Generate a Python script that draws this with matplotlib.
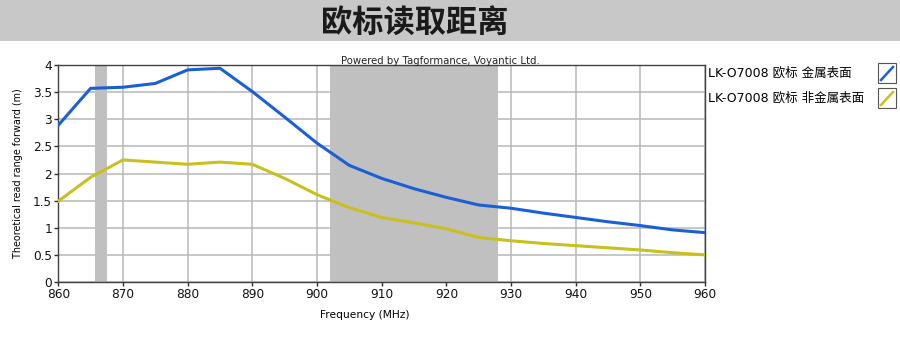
import matplotlib
matplotlib.use("Agg")
import matplotlib.pyplot as plt
from matplotlib.patches import Rectangle
from matplotlib.lines import Line2D

freq = [860, 865, 870, 875, 880, 885, 890, 895, 900, 905, 910, 915, 920, 925,
        930, 935, 940, 945, 950, 955, 960]
metal = [2.89, 3.57, 3.59, 3.66, 3.91, 3.94, 3.51, 3.04, 2.56, 2.15, 1.91, 1.72,
         1.56, 1.42, 1.36, 1.27, 1.19, 1.11, 1.04, 0.96, 0.91]
nonmetal = [1.49, 1.93, 2.25, 2.21, 2.17, 2.21, 2.17, 1.91, 1.61, 1.37, 1.19, 1.09,
            0.98, 0.82, 0.76, 0.71, 0.67, 0.63, 0.59, 0.54, 0.50]
bands = [(865.6, 867.6), (902, 928)]
series_labels = ["LK-O7008 欧标 金属表面", "LK-O7008 欧标 非金属表面"]
series_colors = ["#1b5fd6", "#c9c01f"]
title = "欧标读取距离"
xticks = list(range(860, 961, 10))
yticks = [0, 0.5, 1, 1.5, 2, 2.5, 3, 3.5, 4]
ytick_labels = ["0", "0.5", "1", "1.5", "2", "2.5", "3", "3.5", "4"]

plt.rcParams['font.family'] = ['DejaVu Sans', 'Noto Sans CJK SC']
W, H = 900, 355
fig = plt.figure(figsize=(W / 100, H / 100), dpi=100)

# title bar
fig.patches.append(Rectangle((0, (H - 41) / H), 1, 41 / H, transform=fig.transFigure,
                             facecolor="#c8c8c8", edgecolor="none", zorder=0))
fig.text(415 / W, 1 - 24 / H, title, ha="center", va="center", fontsize=22.5,
         fontweight="heavy", family=["Noto Sans CJK SC"], color="#1a1a1a")

ax = fig.add_axes([58.3 / W, 1 - 282 / H, (705 - 58.3) / W, (282 - 65) / H])
for a, b in bands:
    ax.axvspan(a, b, color="#c0c0c0", lw=0, zorder=1)
ax.grid(True, color="#b8b8b8", lw=1.1, zorder=2)
ax.set_axisbelow(True)
ax.plot(freq, metal, color=series_colors[0], lw=2.2, zorder=3)
ax.plot(freq, nonmetal, color=series_colors[1], lw=2.2, zorder=3)
ax.set_xlim(860, 960)
ax.set_ylim(0, 4)
ax.set_xticks(xticks)
ax.set_yticks(yticks)
ax.set_yticklabels(ytick_labels)
ax.tick_params(direction="out", length=3, width=1, colors="#303030",
               labelsize=8.7, pad=1.5, labelcolor="#111111")
for s in ax.spines.values():
    s.set_color("#404040")
    s.set_linewidth(1)
ax.set_ylabel("Theoretical read range forward (m)", fontsize=6.9, labelpad=7)
fig.text(365 / W, 1 - 315 / H, "Frequency (MHz)", ha="center", va="center", fontsize=7.7)
fig.text(440 / W, 1 - 61 / H, "Powered by Tagformance, Voyantic Ltd.", ha="center",
         va="center", fontsize=7.3, color="#222222")

# legend
rows_y = [73, 98]
for lab, col, yy in zip(series_labels, series_colors, rows_y):
    fig.text(708 / W, 1 - yy / H, lab, ha="left", va="center", fontsize=9,
             family=["DejaVu Sans", "Noto Sans CJK SC"])
    fig.patches.append(Rectangle((878 / W, 1 - (yy + 10) / H), 18 / W, 20 / H,
                                 transform=fig.transFigure, facecolor="white",
                                 edgecolor="#555555", lw=0.8))
    fig.lines.append(Line2D([881 / W, 893 / W], [1 - (yy + 7) / H, 1 - (yy - 6) / H],
                            transform=fig.transFigure, color=col, lw=1.8))

fig.savefig("out.png", dpi=100)
